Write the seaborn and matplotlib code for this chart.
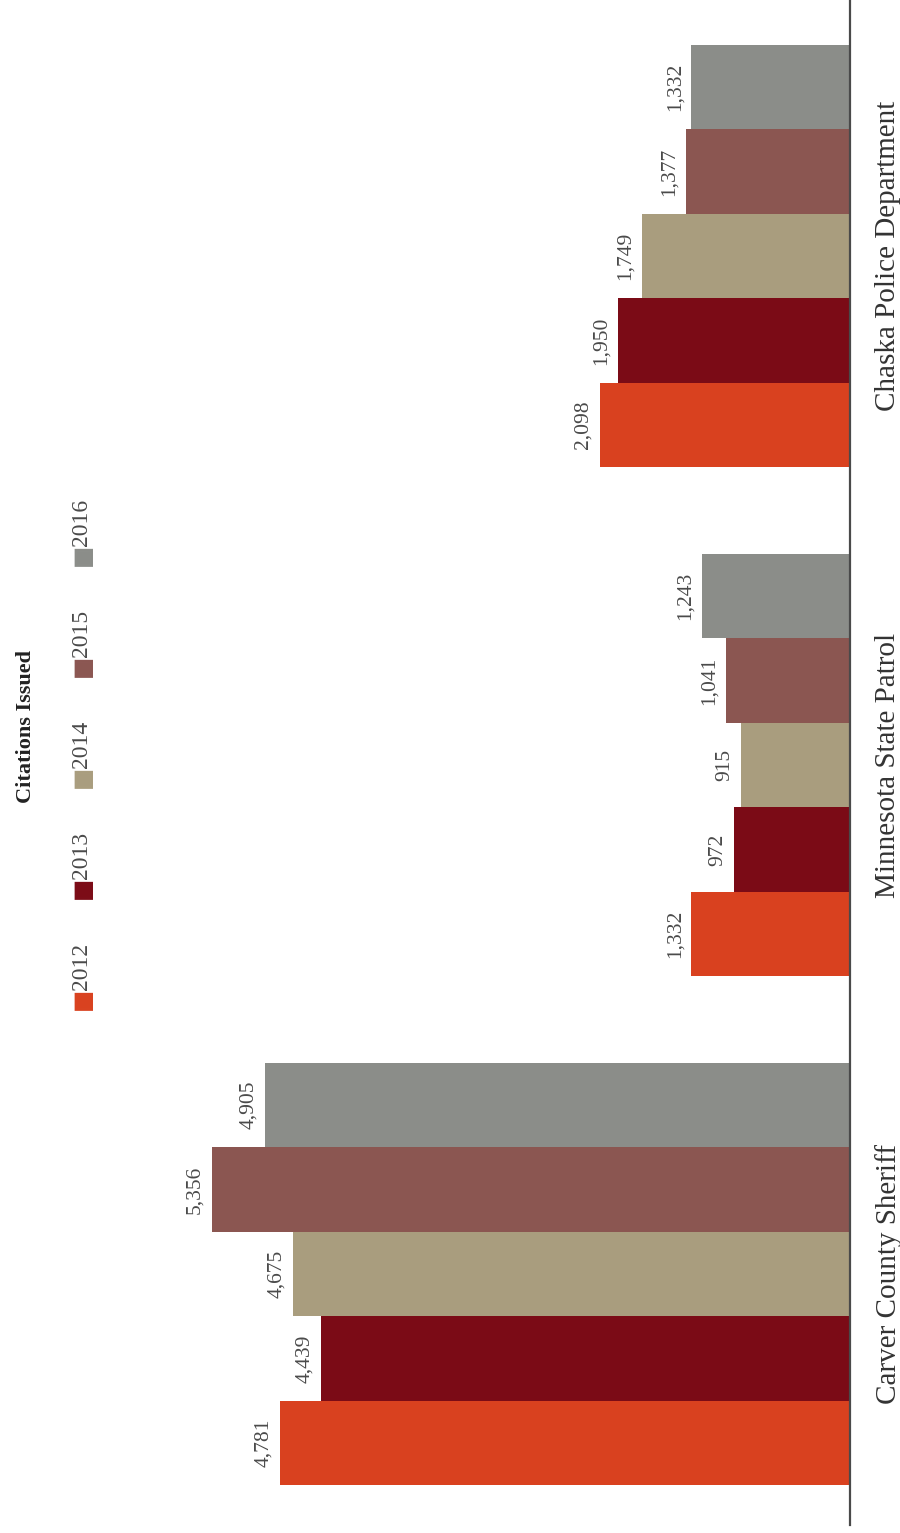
import pandas as pd
import numpy as np
import matplotlib
matplotlib.use("Agg")
import matplotlib.pyplot as plt
import seaborn as sns

agencies = ["Carver County Sheriff", "Minnesota State Patrol", "Chaska Police Department"]
years = ["2012", "2013", "2014", "2015", "2016"]
v2012 = [4781, 1332, 2098]
v2013 = [4439, 972, 1950]
v2014 = [4675, 915, 1749]
v2015 = [5356, 1041, 1377]
v2016 = [4905, 1243, 1332]
colors = ["#d9411f", "#7b0b16", "#a99d7e", "#8b5651", "#8b8d89"]

rows = []
for yr, vals in zip(years, [v2012, v2013, v2014, v2015, v2016]):
    for ag, v in zip(agencies, vals):
        rows.append({"Agency": ag, "Year": yr, "Citations": v})
df = pd.DataFrame(rows)

sns.set_style("white")
plt.rcParams['font.family'] = ['Liberation Serif', 'DejaVu Serif']

W, H = 900, 1533
fig = plt.figure(figsize=(W / 100, H / 100), dpi=100)
ax = fig.add_axes([0, 8 / H, 850 / W, 1525 / H])

sns.barplot(data=df, y="Agency", x="Citations", hue="Year", order=agencies,
            hue_order=years, palette=dict(zip(years, colors)), orient="h",
            width=0.83, saturation=1, legend=False, linewidth=0, ax=ax)

# chart is turned on its side: baseline on the right, bars grow leftwards
ax.set_xlim(7131, 0)
ax.set_ylim(-0.493, 2.503)

for c in ax.containers:
    ax.bar_label(c, fmt="{:,.0f}", rotation=90, padding=5, fontsize=15.5, color="#4a4a4a")

for s in ["top", "left", "bottom"]:
    ax.spines[s].set_visible(False)
ax.spines["right"].set_color("#4a4a4a")
ax.spines["right"].set_linewidth(1.6)
ax.set_xticks([])
ax.set_xlabel("")
ax.set_ylabel("")
ax.yaxis.tick_right()
ax.tick_params(axis="y", length=0, pad=18)
for lab in ax.get_yticklabels():
    lab.set_rotation(90)
    lab.set_va("center")
    lab.set_fontsize(21)
    lab.set_color("#333333")

# title and legend, also rotated
fig.text(26 / W, 1 - 727 / H, "Citations Issued", rotation=90, fontsize=16,
         fontweight="bold", color="#222222", ha="center", va="center")

for i, (yr, col) in enumerate(zip(years, colors)):
    ysq = 999 - i * 111
    fig.text(82 / W, 1 - ysq / H, "\u25a0", rotation=90, fontsize=17, color=col,
             ha="center", va="center", family=["DejaVu Sans"])
    fig.text(82 / W, 1 - (ysq - 9) / H, yr, rotation=90, fontsize=17, color="#4a4a4a",
             ha="center", va="bottom")

fig.savefig("out.png", dpi=100, facecolor="white")
